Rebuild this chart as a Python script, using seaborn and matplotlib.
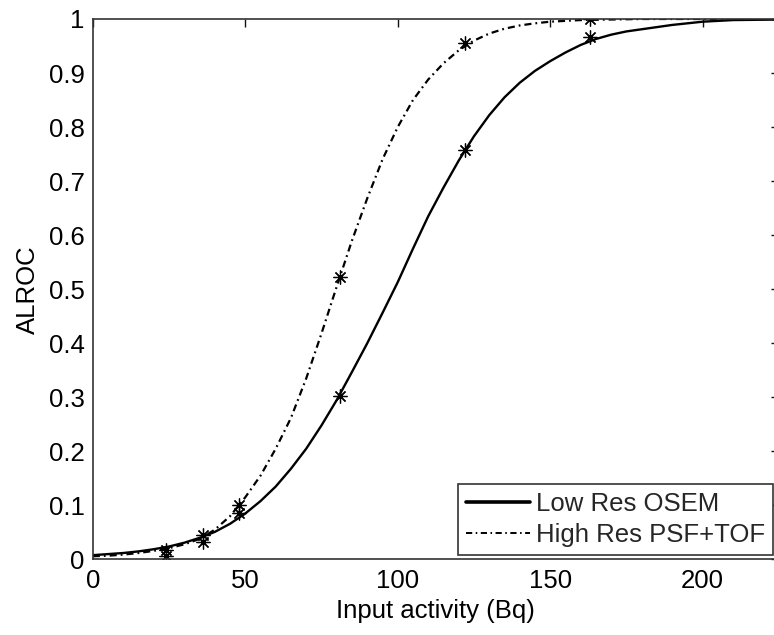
import matplotlib
matplotlib.use("Agg")
import matplotlib.pyplot as plt
import seaborn as sns
import pandas as pd
from matplotlib.lines import Line2D

# ---- data ----
low_x = [0, 5, 10, 15, 20, 25, 30, 35, 40, 45, 50, 55, 60, 65, 70, 75, 80, 85,
         90, 95, 100, 105, 110, 115, 120, 125, 130, 135, 140, 145, 150, 155,
         160, 165, 170, 175, 180, 185, 190, 200, 210, 225]
low_y = [0.008, 0.010, 0.012, 0.015, 0.019, 0.024, 0.031, 0.040, 0.051, 0.066,
         0.085, 0.108, 0.135, 0.168, 0.205, 0.248, 0.295, 0.347, 0.400, 0.456,
         0.513, 0.575, 0.635, 0.688, 0.738, 0.783, 0.822, 0.855, 0.882, 0.904,
         0.922, 0.938, 0.952, 0.963, 0.971, 0.977, 0.981, 0.985, 0.989, 0.995,
         0.998, 0.999]

high_x = [0, 5, 10, 15, 20, 25, 30, 35, 40, 45, 50, 55, 60, 65, 70, 75, 80, 85,
          90, 95, 100, 105, 110, 115, 120, 125, 130, 135, 140, 145, 150, 160,
          170, 180, 225]
high_y = [0.006, 0.007, 0.009, 0.012, 0.016, 0.021, 0.028, 0.038, 0.055, 0.080,
          0.115, 0.155, 0.205, 0.262, 0.335, 0.418, 0.505, 0.590, 0.668, 0.740,
          0.800, 0.850, 0.888, 0.918, 0.942, 0.960, 0.973, 0.982, 0.988, 0.992,
          0.995, 0.998, 0.999, 1.000, 1.000]

pts_x = [24, 36, 48, 81, 122, 163]
low_pts = [0.018, 0.045, 0.086, 0.303, 0.757, 0.966]
high_pts = [0.006, 0.033, 0.100, 0.523, 0.955, 1.000]

series_names = ["Low Res OSEM", "High Res PSF+TOF"]
x_ticks = [0, 50, 100, 150, 200]
y_ticks = [0, 0.1, 0.2, 0.3, 0.4, 0.5, 0.6, 0.7, 0.8, 0.9, 1]
y_tick_labels = ["0", "0.1", "0.2", "0.3", "0.4", "0.5", "0.6", "0.7", "0.8", "0.9", "1"]

# ---- style ----
sns.set_theme(style="white")
plt.rcParams["font.family"] = ["Liberation Sans", "DejaVu Sans"]
FS = 18.5
INK = "#111111"

fig = plt.figure(figsize=(7.74, 6.35), dpi=100)
ax = fig.add_axes([0.1198, 0.1189, 0.8866, 0.8512])

df_low = pd.DataFrame({"x": low_x, "y": low_y})
df_high = pd.DataFrame({"x": high_x, "y": high_y})

dashdot = (0, (3.2, 1.8, 0.8, 1.8))
sns.lineplot(data=df_low, x="x", y="y", ax=ax, color="black", linewidth=1.7,
             linestyle="-", sort=True, estimator=None)
sns.lineplot(data=df_high, x="x", y="y", ax=ax, color="black", linewidth=1.6,
             linestyle=dashdot, sort=True, estimator=None)

star = (8, 2, 0)
df_lp = pd.DataFrame({"x": pts_x, "y": low_pts})
df_hp = pd.DataFrame({"x": pts_x, "y": high_pts})
for d in (df_lp, df_hp):
    sns.lineplot(data=d, x="x", y="y", ax=ax, color="black", linestyle="",
                 marker=star, markersize=10, markeredgewidth=0.9,
                 markeredgecolor="black", estimator=None)

ax.set_xlim(0, 225)
ax.set_ylim(0, 1)
ax.set_xticks(x_ticks)
ax.set_xticklabels([str(v) for v in x_ticks])
ax.set_yticks(y_ticks)
ax.set_yticklabels(y_tick_labels)

ax.tick_params(axis="both", which="major", direction="in", length=6, width=1.0,
               color=INK, labelsize=FS, labelcolor="black",
               top=True, right=True)
ax.tick_params(axis="y", pad=6)
ax.tick_params(axis="x", pad=7)
for s in ax.spines.values():
    s.set_visible(True)
    s.set_color("#333333")
    s.set_linewidth(1.2)

ax.set_xlabel("Input activity (Bq)", fontsize=FS, color="black", labelpad=4)
ax.set_ylabel("ALROC", fontsize=FS, color="black")
ax.yaxis.set_label_coords(-0.077, 0.5)

handles = [Line2D([], [], color="black", linewidth=2.6, linestyle="-"),
           Line2D([], [], color="black", linewidth=1.4, linestyle=dashdot)]
leg = ax.legend(handles, series_names, loc="lower right", fontsize=FS,
                frameon=True, fancybox=False, edgecolor="#333333",
                framealpha=1, handlelength=2.5, handletextpad=0.25,
                borderpad=0.3, labelspacing=0.3,
                bbox_to_anchor=(0.9915, 0.008), borderaxespad=0.0)
leg.get_frame().set_linewidth(1.2)

fig.savefig("out.png", dpi=100)
